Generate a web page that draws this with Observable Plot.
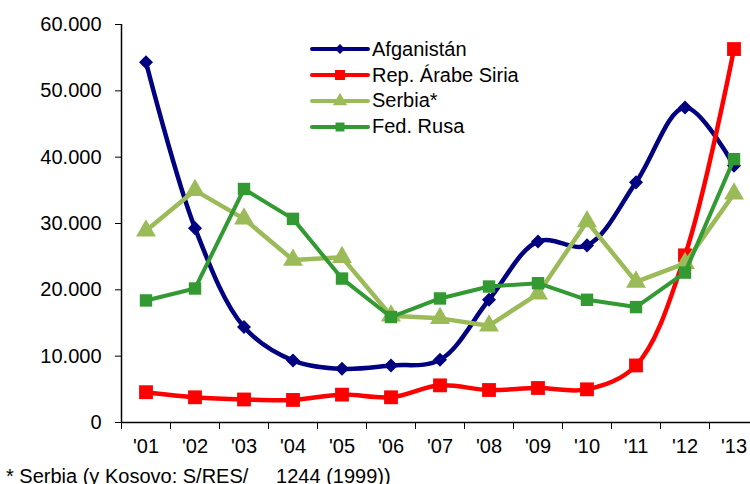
<!DOCTYPE html>
<html><head><meta charset="utf-8">
<script src="https://cdn.jsdelivr.net/npm/d3@7"></script>
<script src="https://cdn.jsdelivr.net/npm/@observablehq/plot@0.6"></script>
<style>
html,body{margin:0;padding:0;background:#fff;}
#wrap{position:relative;width:750px;height:484px;overflow:hidden;font-family:"Liberation Sans",Arial,sans-serif;}
#foot{position:absolute;left:6px;top:464px;font-size:20px;line-height:24px;color:#000;white-space:pre;}
#legend{position:absolute;left:310px;top:36.4px;font-size:20px;color:#000;}
#legend .row{height:25.8px;display:flex;align-items:center;}
#legend svg{display:block;margin-right:2px;}
</style></head>
<body><div id="wrap"><div id="chart"></div><div id="legend"></div>
<div id="foot">* Serbia (y Kosovo: S/RES/     1244 (1999))</div></div>
<script>
const years = ["'01","'02","'03","'04","'05","'06","'07","'08","'09","'10","'11","'12","'13"];
const afganistan = [54300, 29300, 14400, 9350, 8100, 8600, 9450, 18500, 27300, 26700, 36200, 47500, 38700];
const siria      = [4570, 3800, 3470, 3400, 4200, 3800, 5600, 4900, 5200, 5000, 8600, 25200, 56300];
const serbia     = [28900, 35000, 30700, 24500, 24900, 16100, 15700, 14600, 19400, 30300, 21200, 24000, 34500];
const rusa       = [18400, 20200, 35200, 30700, 21700, 15900, 18700, 20500, 21000, 18500, 17400, 22600, 39700];
const yTicks = [0, 10000, 20000, 30000, 40000, 50000, 60000];

const diamond = {draw(ctx, size){const r=Math.sqrt(size/2);ctx.moveTo(0,-r);ctx.lineTo(r,0);ctx.lineTo(0,r);ctx.lineTo(-r,0);ctx.closePath();}};

const series = [
  {name:"Afganistán", values:afganistan, color:"#000080", symbol:diamond, r:5.6, curve:"catmull-rom", sw:4.5},
  {name:"Rep. Árabe Siria", values:siria, color:"#FF0000", symbol:"square", r:7.8, curve:"catmull-rom", sw:4.5},
  {name:"Serbia*", values:serbia, color:"#9BBB59", symbol:"triangle", r:7.4, curve:"linear", sw:4.5},
  {name:"Fed. Rusa", values:rusa, color:"#339933", symbol:"square", r:7, curve:"linear", sw:4}
];

const idx = years.map((_, i) => i + 1);
const bounds = d3.range(years.length + 1).map(i => i + 0.5);
const fmt = d => d === 0 ? "0" : d3.format(",")(d).replace(/,/g, ".");

const marks = [];
for (const s of series) {
  const data = s.values.map((v, i) => ({x: i + 1, y: v}));
  marks.push(Plot.line(data, {x:"x", y:"y", stroke:s.color, strokeWidth:s.sw, curve:s.curve, strokeLinejoin:"round"}));
  marks.push(Plot.dot(data, {x:"x", y:"y", fill:s.color, symbol:s.symbol, r:s.r, stroke:"none"}));
}

const plot = Plot.plot({
  width: 750, height: 464,
  marginLeft: 121, marginRight: -8, marginTop: 24, marginBottom: 42,
  style: {fontFamily: '"Liberation Sans", Arial, sans-serif', fontSize: "20px", color: "#000", background: "#fff", overflow: "visible"},
  x: {type: "linear", domain: [0.5, years.length + 0.5], axis: null},
  y: {domain: [0, 60000], axis: null},
  symbol: {type: "identity"},
  marks: [
    Plot.axisY({ticks: yTicks, tickFormat: fmt, tickSize: 6, tickPadding: 14, stroke: "#000", fill: "#000", fontSize: 20, label: null}),
    Plot.axisX({ticks: bounds, tickFormat: () => "", tickSize: 7, stroke: "#000", label: null}),
    Plot.axisX({ticks: idx, tickFormat: d => years[d - 1], tickSize: 0, tickPadding: 16, fill: "#000", fontSize: 20, label: null}),
    Plot.ruleX([0.5], {stroke: "#000", strokeWidth: 1.5}),
    Plot.ruleY([0], {stroke: "#000", strokeWidth: 1.5}),
    ...marks
  ]
});
document.getElementById("chart").appendChild(plot);

// legend
const leg = document.getElementById("legend");
for (const s of series) {
  const row = document.createElement("div"); row.className = "row";
  const sym = typeof s.symbol === "string" ? (s.symbol === "square" ? d3.symbolSquare : d3.symbolTriangle) : s.symbol;
  const rr = s.r * 0.72;
  const path = d3.symbol(sym, Math.PI * rr * rr)();
  row.innerHTML = `<svg width="60" height="20"><line x1="2" x2="58" y1="10" y2="10" stroke="${s.color}" stroke-width="4" stroke-linecap="round"/><path d="${path}" transform="translate(30,10)" fill="${s.color}"/></svg><span>${s.name}</span>`;
  leg.appendChild(row);
}
</script></body></html>
